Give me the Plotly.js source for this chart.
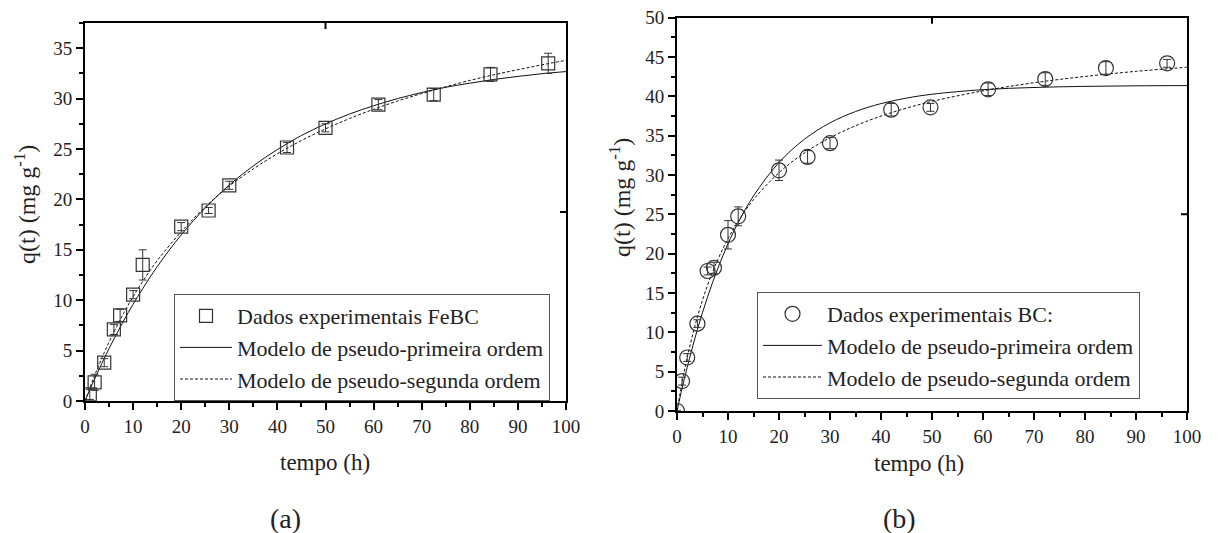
<!DOCTYPE html>
<html>
<head>
<meta charset="utf-8">
<script src="https://cdn.plot.ly/plotly-3.0.1.min.js"></script>
<style>html,body{margin:0;padding:0;background:#fff;}#chart{width:1218px;height:533px;}</style>
</head>
<body>
<div id="chart"></div>
<script>
// ---- Panel (a): FeBC ----
const tExpA = [1, 2, 4, 6, 7.3, 10, 12, 20, 25.7, 30, 42, 50, 61, 72.5, 84.3, 96.3];
const qExpA = [0.65, 1.85, 3.8, 7.1, 8.5, 10.55, 13.5, 17.3, 18.9, 21.4, 25.15, 27.1, 29.4, 30.4, 32.4, 33.5];
const errExpA = [0.5, 0.8, 0.4, 0.5, 0.6, 0.4, 1.5, 0.4, 0.3, 0.4, 0.5, 0.4, 0.5, 0.6, 0.7, 1.0];

const tModelA = [0, 1, 2, 4, 6, 8, 10, 12, 15, 20, 25, 30, 35, 40, 45, 50, 55, 60, 65, 70, 75, 80, 85, 90, 95, 100];
const qPFOA = [0, 1.11, 2.18, 4.23, 6.14, 7.93, 9.6, 11.15, 13.32, 16.48, 19.15, 21.43, 23.33, 24.95, 26.34, 27.49, 28.47, 29.29, 30.0, 30.6, 31.12, 31.53, 31.9, 32.2, 32.47, 32.68];
const qPSOA = [0, 1.3, 2.53, 4.8, 6.83, 8.67, 10.35, 11.87, 13.92, 16.78, 19.25, 21.32, 23.03, 24.53, 25.84, 27.0, 28.02, 28.94, 29.76, 30.5, 31.18, 31.8, 32.36, 32.87, 33.35, 33.8];

// ---- Panel (b): BC ----
const tExpB = [0, 1, 2, 4, 6, 7.25, 10, 12, 20, 25.6, 30, 42, 49.7, 61, 72.2, 84.1, 96.1];
const qExpB = [0, 3.8, 6.8, 11.1, 17.8, 18.2, 22.4, 24.75, 30.6, 32.3, 34.05, 38.3, 38.6, 40.9, 42.2, 43.6, 44.2];
const errExpB = [0, 0.5, 0.5, 0.5, 0.5, 0.7, 1.8, 1.2, 1.3, 0.8, 0.7, 0.8, 0.5, 0.8, 0.8, 0.8, 0.5];

const tModelB = [0, 1, 2, 4, 6, 8, 10, 12, 15, 20, 25, 30, 35, 40, 45, 50, 60, 70, 80, 90, 100];
const qPFOB = [0, 2.88, 5.55, 10.36, 14.52, 18.13, 21.25, 23.95, 27.34, 31.59, 34.56, 36.63, 38.07, 39.08, 39.78, 40.27, 40.85, 41.13, 41.27, 41.34, 41.37];
const qPSOB = [0, 3.66, 6.81, 11.96, 16.0, 19.24, 21.9, 24.14, 26.87, 30.3, 32.82, 34.74, 36.26, 37.49, 38.5, 39.36, 40.7, 41.73, 42.53, 43.18, 43.7];

const labelsA = ['Dados experimentais FeBC', 'Modelo de pseudo-primeira ordem', 'Modelo de pseudo-segunda ordem'];
const labelsB = ['Dados experimentais BC:', 'Modelo de pseudo-primeira ordem', 'Modelo de pseudo-segunda ordem'];
const yTitle = 'q(t) (mg g<sup>-1</sup>)';
const xTitle = 'tempo (h)';
const panelLabels = ['(a)', '(b)'];

const FONT = 'Liberation Serif';
const ink = '#222';

function errBar(arr){ return {type:'data', array:arr, visible:true, color:'#333', thickness:1, width:4}; }

const traces = [
  {x:tModelA, y:qPFOA, mode:'lines', name:labelsA[1], line:{color:'#111', width:1, shape:'spline'}, xaxis:'x', yaxis:'y', legend:'legend', legendrank:2},
  {x:tModelA, y:qPSOA, mode:'lines', name:labelsA[2], line:{color:'#111', width:1, dash:'3px,2px', shape:'spline'}, xaxis:'x', yaxis:'y', legend:'legend', legendrank:3},
  {x:tExpA, y:qExpA, mode:'markers', name:labelsA[0], error_y:errBar(errExpA),
   marker:{symbol:'square-open', size:13, color:'#333', line:{width:1.2}}, xaxis:'x', yaxis:'y', legend:'legend', legendrank:1},
  {x:tModelB, y:qPFOB, mode:'lines', name:labelsB[1], line:{color:'#111', width:1, shape:'spline'}, xaxis:'x2', yaxis:'y2', legend:'legend2', legendrank:2},
  {x:tModelB, y:qPSOB, mode:'lines', name:labelsB[2], line:{color:'#111', width:1, dash:'3px,2px', shape:'spline'}, xaxis:'x2', yaxis:'y2', legend:'legend2', legendrank:3},
  {x:tExpB, y:qExpB, mode:'markers', name:labelsB[0], error_y:errBar(errExpB),
   marker:{symbol:'circle-open', size:15, color:'#333', line:{width:1.2}}, xaxis:'x2', yaxis:'y2', legend:'legend2', legendrank:1}
];

function axis(domain, range, dtick, minorD, anchor){
  return {domain:domain, range:range, dtick:dtick, tick0:0, anchor:anchor,
    showgrid:false, zeroline:false, showline:true, linecolor:'#000', linewidth:2, mirror:true,
    ticks:'outside', ticklen:7, tickwidth:2, tickcolor:'#000',
    minor:{ticks:'outside', ticklen:4, tickwidth:2, tickcolor:'#000', dtick:minorD, tick0:0, showgrid:false},
    tickfont:{family:FONT, size:19, color:ink}, fixedrange:true};
}

const legendStyle = {font:{family:FONT, size:22, color:ink}, bordercolor:'#555', borderwidth:1, bgcolor:'rgba(255,255,255,0)',
  xanchor:'left', yanchor:'top', tracegroupgap:0, traceorder:'normal'};

// small inward ticks drawn by the original software on the top / right frame
const topTickX = 50;
const rightTickYA = 18.75, rightTickYB = 25;

const yTopA = 1-23/533, yTopB = 1-17.7/533;
const layout = {
  width:1218, height:533, margin:{l:0, r:0, t:0, b:0},
  paper_bgcolor:'#fff', plot_bgcolor:'#fff', showlegend:true,
  font:{family:FONT, color:ink},
  xaxis: axis([85/1218, 566/1218], [0, 100], 10, 5, 'y'),
  yaxis: axis([1-401/533, yTopA], [0, 37.5], 5, 2.5, 'x'),
  xaxis2: axis([677/1218, 1187/1218], [0, 100], 10, 5, 'y2'),
  yaxis2: axis([1-411/533, yTopB], [0, 50], 5, 2.5, 'x2'),
  legend: Object.assign({x:174/1218, y:1-294/533, itemwidth:52}, legendStyle),
  legend2: Object.assign({x:757/1218, y:1-292/533, itemwidth:59}, legendStyle),
  shapes: [
    {type:'line', xref:'x', yref:'paper', x0:topTickX, x1:topTickX, y0:yTopA, y1:yTopA-6/533, line:{color:'#000', width:2}},
    {type:'line', xref:'x2', yref:'paper', x0:topTickX, x1:topTickX, y0:yTopB, y1:yTopB-6/533, line:{color:'#000', width:2}},
    {type:'line', xref:'paper', yref:'y', x0:566/1218, x1:560/1218, y0:rightTickYA, y1:rightTickYA, line:{color:'#000', width:2}},
    {type:'line', xref:'paper', yref:'y2', x0:1187/1218, x1:1181/1218, y0:rightTickYB, y1:rightTickYB, line:{color:'#000', width:2}}
  ],
  annotations: [
    {text:yTitle, xref:'paper', yref:'paper', x:25/1218, y:1-205/533, textangle:-90, showarrow:false, font:{family:FONT, size:24, color:ink}, xanchor:'center', yanchor:'middle'},
    {text:yTitle, xref:'paper', yref:'paper', x:620/1218, y:1-198/533, textangle:-90, showarrow:false, font:{family:FONT, size:24, color:ink}, xanchor:'center', yanchor:'middle'},
    {text:xTitle, xref:'paper', yref:'paper', x:325/1218, y:1-462/533, showarrow:false, font:{family:FONT, size:23, color:ink}, xanchor:'center', yanchor:'middle'},
    {text:xTitle, xref:'paper', yref:'paper', x:919/1218, y:1-463/533, showarrow:false, font:{family:FONT, size:23, color:ink}, xanchor:'center', yanchor:'middle'},
    {text:panelLabels[0], xref:'paper', yref:'paper', x:285/1218, y:1-518/533, showarrow:false, font:{family:FONT, size:28, color:ink}, xanchor:'center', yanchor:'middle'},
    {text:panelLabels[1], xref:'paper', yref:'paper', x:899/1218, y:1-518/533, showarrow:false, font:{family:FONT, size:28, color:ink}, xanchor:'center', yanchor:'middle'}
  ]
};

Plotly.newPlot('chart', traces, layout, {staticPlot:true, displayModeBar:false});
</script>
</body>
</html>
